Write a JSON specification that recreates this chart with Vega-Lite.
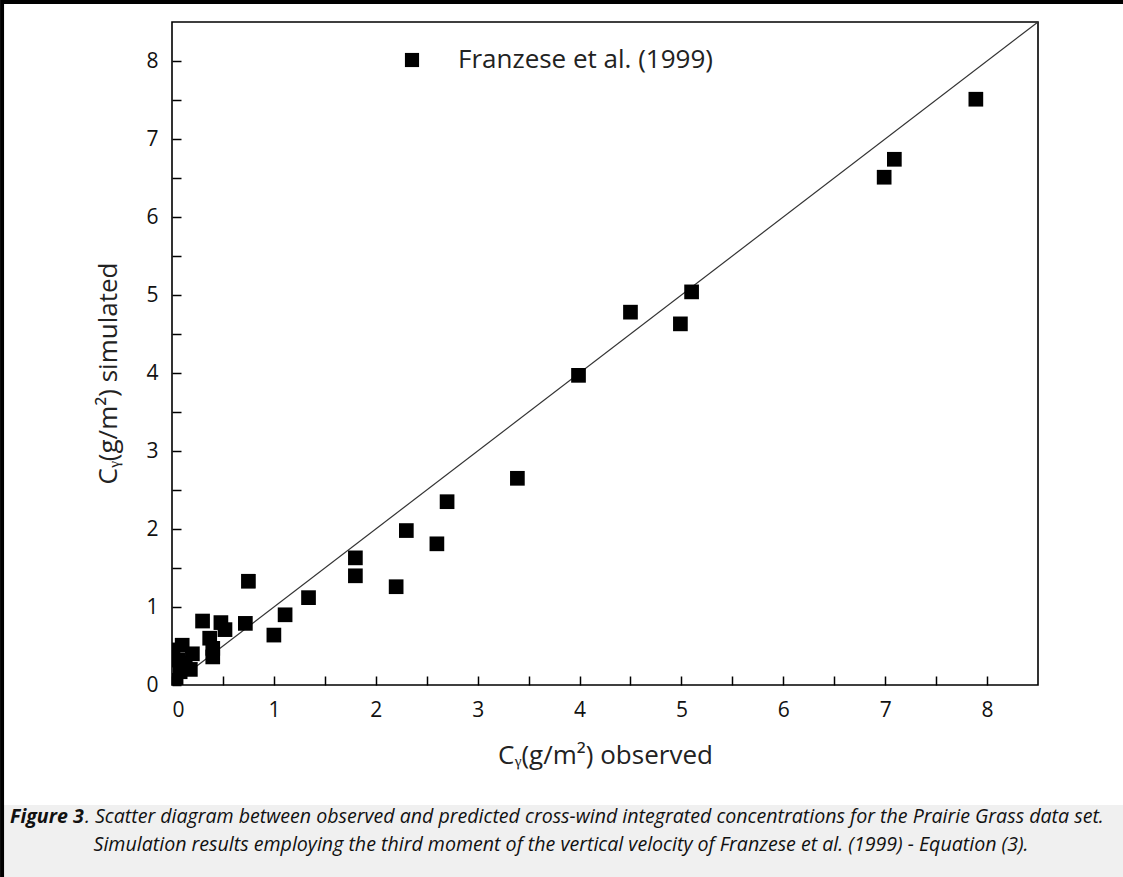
{
  "$schema": "https://vega.github.io/schema/vega-lite/v6.json",
  "width": 866,
  "height": 663,
  "autosize": "none",
  "padding": {"left": 172, "top": 22, "right": 85, "bottom": 192},
  "background": "white",
  "config": {
    "view": {"stroke": "#000", "strokeWidth": 1.6},
    "font": "Open Sans",
    "axis": {"domain": false, "grid": false, "labelFont": "Open Sans", "titleFont": "Open Sans", "labelColor": "#111", "titleColor": "#222", "tickColor": "#000", "labelFontSize": 21, "titleFontSize": 26, "titleFontWeight": "normal", "tickWidth": 1.5}
  },
  "datasets": {
    "pts": [
      {"observed": 7.89, "simulated": 7.51, "series": "Franzese et al. (1999)"},
      {"observed": 7.09, "simulated": 6.74, "series": "Franzese et al. (1999)"},
      {"observed": 6.99, "simulated": 6.51, "series": "Franzese et al. (1999)"},
      {"observed": 5.10, "simulated": 5.04, "series": "Franzese et al. (1999)"},
      {"observed": 4.99, "simulated": 4.63, "series": "Franzese et al. (1999)"},
      {"observed": 4.50, "simulated": 4.78, "series": "Franzese et al. (1999)"},
      {"observed": 3.99, "simulated": 3.97, "series": "Franzese et al. (1999)"},
      {"observed": 3.39, "simulated": 2.65, "series": "Franzese et al. (1999)"},
      {"observed": 2.70, "simulated": 2.35, "series": "Franzese et al. (1999)"},
      {"observed": 2.30, "simulated": 1.98, "series": "Franzese et al. (1999)"},
      {"observed": 2.60, "simulated": 1.81, "series": "Franzese et al. (1999)"},
      {"observed": 1.80, "simulated": 1.63, "series": "Franzese et al. (1999)"},
      {"observed": 1.80, "simulated": 1.40, "series": "Franzese et al. (1999)"},
      {"observed": 2.20, "simulated": 1.26, "series": "Franzese et al. (1999)"},
      {"observed": 0.75, "simulated": 1.33, "series": "Franzese et al. (1999)"},
      {"observed": 1.34, "simulated": 1.12, "series": "Franzese et al. (1999)"},
      {"observed": 1.11, "simulated": 0.90, "series": "Franzese et al. (1999)"},
      {"observed": 1.00, "simulated": 0.64, "series": "Franzese et al. (1999)"},
      {"observed": 0.72, "simulated": 0.79, "series": "Franzese et al. (1999)"},
      {"observed": 0.30, "simulated": 0.82, "series": "Franzese et al. (1999)"},
      {"observed": 0.48, "simulated": 0.80, "series": "Franzese et al. (1999)"},
      {"observed": 0.52, "simulated": 0.71, "series": "Franzese et al. (1999)"},
      {"observed": 0.37, "simulated": 0.60, "series": "Franzese et al. (1999)"},
      {"observed": 0.40, "simulated": 0.47, "series": "Franzese et al. (1999)"},
      {"observed": 0.40, "simulated": 0.36, "series": "Franzese et al. (1999)"},
      {"observed": 0.10, "simulated": 0.51, "series": "Franzese et al. (1999)"},
      {"observed": 0.20, "simulated": 0.40, "series": "Franzese et al. (1999)"},
      {"observed": 0.06, "simulated": 0.32, "series": "Franzese et al. (1999)"},
      {"observed": 0.18, "simulated": 0.20, "series": "Franzese et al. (1999)"},
      {"observed": 0.08, "simulated": 0.17, "series": "Franzese et al. (1999)"},
      {"observed": 0.04, "simulated": 0.06, "series": "Franzese et al. (1999)"},
      {"observed": 0.01, "simulated": 0.45, "series": "Franzese et al. (1999)"},
      {"observed": 0.13, "simulated": 0.28, "series": "Franzese et al. (1999)"}
    ],
    "diag": [
      {"observed": 0, "simulated": 0},
      {"observed": 8.5, "simulated": 8.5}
    ],
    "caption": [
      {"part": "bold", "text": "Figure 3"},
      {"part": "rest1", "text": ". Scatter diagram between observed and predicted cross-wind integrated concentrations for the Prairie Grass data set."},
      {"part": "rest2", "text": "Simulation results employing the third moment of the vertical velocity of Franzese et al. (1999) - Equation (3)."}
    ]
  },
  "layer": [
    {
      "data": {"name": "pts"},
      "mark": {"type": "point", "opacity": 0, "clip": true},
      "encoding": {
        "x": {"field": "observed", "type": "quantitative",
          "scale": {"domain": [0, 8.5], "nice": false, "zero": false},
          "axis": {"orient": "bottom", "values": [0,0.5,1,1.5,2,2.5,3,3.5,4,4.5,5,5.5,6,6.5,7,7.5,8],
            "labelExpr": "datum.value % 1 === 0 ? format(datum.value, 'd') : ''",
            "tickSize": -9, "labelFontSize": 21,
            "labelPadding": 23, "title": "Cᵧ(g/m²) observed", "titlePadding": 22}},
        "y": {"field": "simulated", "type": "quantitative",
          "scale": {"domain": [0, 8.5], "nice": false, "zero": false},
          "axis": {"orient": "left", "values": [0,0.5,1,1.5,2,2.5,3,3.5,4,4.5,5,5.5,6,6.5,7,7.5,8],
            "labelExpr": "datum.value % 1 === 0 ? format(datum.value, 'd') : ''",
            "tickSize": -9, "labelFontSize": 21,
            "labelPadding": 23, "title": "Cᵧ(g/m²) simulated", "titlePadding": 24, "titleY": 351}}
      }
    },
    {
      "data": {"values": [{}]},
      "mark": {"type": "rect", "color": "#f0f0f0", "clip": false},
      "encoding": {
        "x": {"datum": -1.75, "type": "quantitative"},
        "x2": {"datum": 9.5},
        "y": {"datum": -1.538, "type": "quantitative"},
        "y2": {"datum": -2.6}
      }
    },
    {
      "data": {"values": [{}]},
      "mark": {"type": "rect", "fillOpacity": 0, "stroke": "#000", "strokeWidth": 4, "clip": false},
      "encoding": {
        "x": {"datum": -1.668, "type": "quantitative"},
        "x2": {"datum": 9.8},
        "y": {"datum": 8.756, "type": "quantitative"},
        "y2": {"datum": -2.8}
      }
    },
    {
      "data": {"name": "caption"},
      "transform": [{"filter": "datum.part === 'bold'"}],
      "mark": {"type": "text", "align": "left", "baseline": "middle", "font": "Open Sans", "fontSize": 19.6, "fontStyle": "italic", "fontWeight": "bold", "color": "#111", "clip": false},
      "encoding": {
        "text": {"field": "text"},
        "x": {"datum": -1.59, "type": "quantitative"},
        "y": {"datum": -1.692, "type": "quantitative"}
      }
    },
    {
      "data": {"name": "caption"},
      "transform": [{"filter": "datum.part === 'rest1'"}],
      "mark": {"type": "text", "align": "left", "baseline": "middle", "font": "Open Sans", "fontSize": 19.6, "fontStyle": "italic", "color": "#111", "clip": false},
      "encoding": {
        "text": {"field": "text"},
        "x": {"datum": -0.855, "type": "quantitative"},
        "y": {"datum": -1.692, "type": "quantitative"}
      }
    },
    {
      "data": {"name": "caption"},
      "transform": [{"filter": "datum.part === 'rest2'"}],
      "mark": {"type": "text", "align": "center", "baseline": "middle", "font": "Open Sans", "fontSize": 19.6, "fontStyle": "italic", "color": "#111", "clip": false},
      "encoding": {
        "text": {"field": "text"},
        "x": {"datum": 3.818, "type": "quantitative"},
        "y": {"datum": -2.051, "type": "quantitative"}
      }
    },
    {
      "data": {"name": "diag"},
      "mark": {"type": "line", "color": "#333", "strokeWidth": 1.2},
      "encoding": {
        "x": {"field": "observed", "type": "quantitative"},
        "y": {"field": "simulated", "type": "quantitative"}
      }
    },
    {
      "data": {"name": "pts"},
      "mark": {"type": "point", "shape": "square", "filled": true, "size": 216, "opacity": 1, "clip": true},
      "encoding": {
        "x": {"field": "observed", "type": "quantitative"},
        "y": {"field": "simulated", "type": "quantitative"},
        "color": {"field": "series", "type": "nominal", "scale": {"range": ["#000"]},
          "legend": {"orient": "none", "legendX": 227, "legendY": 25, "title": null, "symbolType": "square", "symbolSize": 200, "symbolStrokeWidth": 0, "labelFontSize": 26, "labelFont": "Open Sans", "labelColor": "#222", "labelOffset": 33, "labelLimit": 500}}
      }
    }
  ]
}
